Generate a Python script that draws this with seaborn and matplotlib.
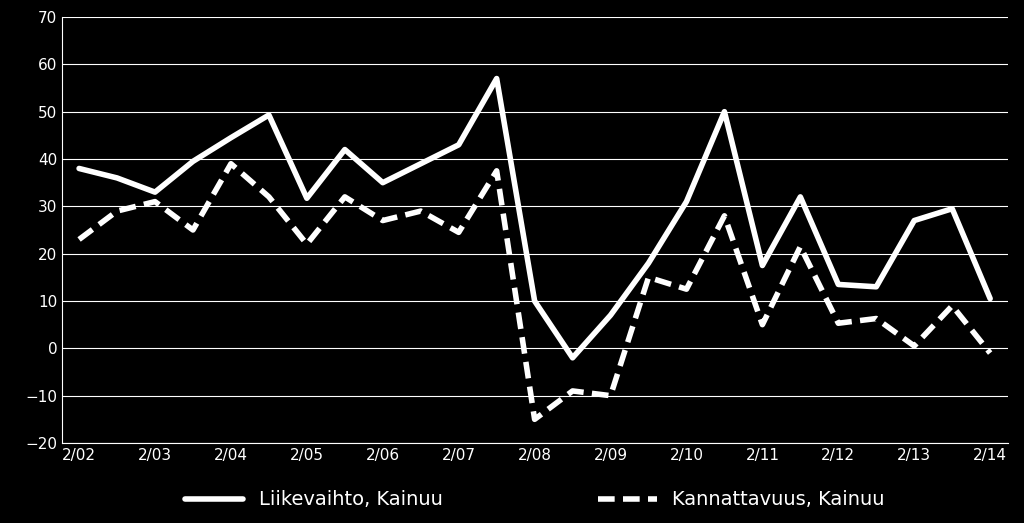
import matplotlib
matplotlib.use("Agg")
import matplotlib.pyplot as plt
import seaborn as sns
import pandas as pd

tick_labels = ["2/02","2/03","2/04","2/05","2/06","2/07","2/08","2/09","2/10","2/11","2/12","2/13","2/14"]
liikevaihto = [38,36,33,39.5,44.5,49.3,31.7,42,35,39,43,57,10,-2,7,18,31,50,17.5,32,13.5,13,27,29.5,10.5]
kannattavuus = [23,29,31,25,39,32,22,32,27,29,24.5,37.5,-15,-9,-10,15,12.5,28,5,21.5,5.3,6.3,0.5,9,-1]

sns.set_style("dark")
fig = plt.figure(figsize=(10.24,5.23), dpi=100, facecolor="black")
ax = fig.add_axes([62/1024, 1-443/523, 946/1024, 426/523])
ax.set_facecolor("black")
x = list(range(len(liikevaihto)))
df = pd.DataFrame({"x": x, "Liikevaihto, Kainuu": liikevaihto, "Kannattavuus, Kainuu": kannattavuus})
sns.lineplot(data=df, x="x", y="Liikevaihto, Kainuu", ax=ax, color="white", lw=4, label="Liikevaihto, Kainuu")
sns.lineplot(data=df, x="x", y="Kannattavuus, Kainuu", ax=ax, color="white", lw=4, ls=(0,(3,1.5)), label="Kannattavuus, Kainuu")
ax.set_xlim(-0.45, 24.47)
ax.set_ylim(-20, 70)
ax.set_yticks(range(-20, 71, 10))
ax.set_xticks(range(0, 25, 2))
ax.set_xticklabels(tick_labels)
ax.set_xlabel(""); ax.set_ylabel("")
ax.tick_params(colors="white", labelsize=11, length=0)
ax.grid(axis="y", color="white", lw=0.8)
ax.grid(axis="x", visible=False)
for s in ["top","right"]:
    ax.spines[s].set_visible(False)
for s in ["left","bottom"]:
    ax.spines[s].set_color("white")
leg = ax.legend(loc="upper center", bbox_to_anchor=(0.5, -0.07), ncol=2, frameon=False,
                fontsize=14, labelcolor="white", handlelength=3, columnspacing=8)
fig.savefig("out.png", dpi=100, facecolor="black")
